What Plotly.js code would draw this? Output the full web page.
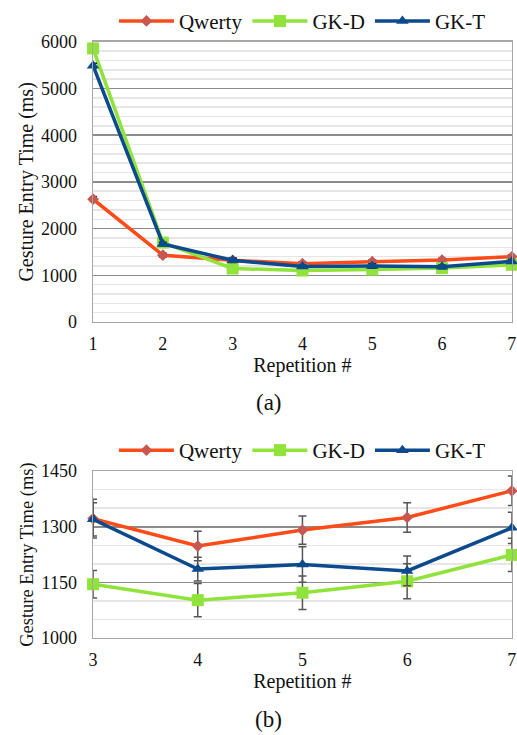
<!DOCTYPE html>
<html><head><meta charset="utf-8">
<script src="https://cdn.plot.ly/plotly-3.0.1.min.js"></script>
<style>body{margin:0;background:#fff}#c{width:517px;height:735px}</style>
</head><body><div id="c"></div>
<script>
const reps = [1, 2, 3, 4, 5, 6, 7];
const seriesNames = ['Qwerty', 'GK-D', 'GK-T'];
const qwerty = [2630, 1430, 1322, 1248, 1291, 1325, 1397];
const gkd = [5860, 1700, 1145, 1102, 1122, 1153, 1224];
const gkt = [5490, 1670, 1320, 1186, 1198, 1181, 1297];
const qwertyErr = [60, 40, 52, 40, 38, 40, 40];
const gkdErr = [40, 40, 37, 45, 45, 47, 45];
const gktErr = [50, 40, 45, 32, 48, 40, 42];
const bStart = 2;

const colors = {
  line: ['#ff4b17', '#8fe33b', '#0b4a8c'],
  marker: ['#c8574f', '#8fe33b', '#0b4a8c'],
  symbol: ['diamond', 'square', 'triangle-up'],
  size: [9, 12, 11]
};
const vals = [qwerty, gkd, gkt];
const errs = [qwertyErr, gkdErr, gktErr];

const traces = [];
for (let i = 0; i < 3; i++) {
  traces.push({
    x: reps, y: vals[i], name: seriesNames[i], type: 'scatter', mode: 'lines+markers',
    xaxis: 'x', yaxis: 'y', legend: 'legend', cliponaxis: false,
    line: {color: colors.line[i], width: 3.5},
    marker: {color: colors.marker[i], symbol: colors.symbol[i], size: colors.size[i]},
    error_y: {type: 'data', array: errs[i], visible: true, color: '#222', thickness: 1.5, width: 4}
  });
}
for (let i = 0; i < 3; i++) {
  traces.push({
    x: reps.slice(bStart), y: vals[i].slice(bStart), name: seriesNames[i], type: 'scatter', mode: 'lines+markers',
    xaxis: 'x2', yaxis: 'y2', legend: 'legend2', cliponaxis: false,
    line: {color: colors.line[i], width: 3.5},
    marker: {color: colors.marker[i], symbol: colors.symbol[i], size: colors.size[i]},
    error_y: {type: 'data', array: errs[i].slice(bStart), visible: true, color: '#555', thickness: 1.5, width: 4}
  });
}

const font = 'Liberation Serif';
const axisCommon = {
  showline: true, mirror: true, linecolor: '#a6a6a6', linewidth: 1.5,
  ticks: '', zeroline: false, tickfont: {family: font, size: 18, color: '#111'}
};

const layout = {
  width: 517, height: 735,
  margin: {l: 0, r: 0, t: 0, b: 0},
  paper_bgcolor: '#fff', plot_bgcolor: '#fff',
  font: {family: font, color: '#111'},
  xaxis: Object.assign({}, axisCommon, {
    domain: [0.18, 0.99], range: [1, 7], tickvals: reps, anchor: 'y', showgrid: false,
    ticklabelstandoff: 5,
    title: {text: 'Repetition #', font: {family: font, size: 20}, standoff: 1}
  }),
  yaxis: Object.assign({}, axisCommon, {
    domain: [0.562, 0.943], range: [0, 6000], dtick: 1000, anchor: 'x',
    showgrid: true, gridcolor: '#8c8c8c', gridwidth: 1.5,
    ticklabelstandoff: 11,
    minor: {dtick: 200, showgrid: true, gridcolor: '#e6e6e6', gridwidth: 1.5},
    title: {text: 'Gesture Entry Time (ms)', font: {family: font, size: 20}, standoff: 2}
  }),
  xaxis2: Object.assign({}, axisCommon, {
    domain: [0.18, 0.99], range: [3, 7], tickvals: reps.slice(bStart), anchor: 'y2', showgrid: false,
    ticklabelstandoff: 5,
    title: {text: 'Repetition #', font: {family: font, size: 20}, standoff: 1}
  }),
  yaxis2: Object.assign({}, axisCommon, {
    domain: [0.132, 0.359], range: [1000, 1450], tickvals: [1000, 1150, 1300, 1450], anchor: 'x2',
    showgrid: true, gridcolor: '#8c8c8c', gridwidth: 1.5,
    ticklabelstandoff: 11,
    minor: {dtick: 50, showgrid: true, gridcolor: '#e6e6e6', gridwidth: 1.5},
    title: {text: 'Gesture Entry Time (ms)', font: {family: font, size: 18.5}, standoff: 2}
  }),
  legend: {orientation: 'h', x: 0.585, xanchor: 'center', y: 0.999, yanchor: 'top',
    font: {family: font, size: 21}, itemwidth: 55, bgcolor: 'rgba(0,0,0,0)'},
  legend2: {orientation: 'h', x: 0.585, xanchor: 'center', y: 0.415, yanchor: 'top',
    font: {family: font, size: 21}, itemwidth: 55, bgcolor: 'rgba(0,0,0,0)'},
  annotations: [
    {text: '(a)', xref: 'paper', yref: 'paper', x: 0.52, y: 1 - 402/735, xanchor: 'center', yanchor: 'middle',
     showarrow: false, font: {family: font, size: 23}},
    {text: '(b)', xref: 'paper', yref: 'paper', x: 0.52, y: 1 - 719/735, xanchor: 'center', yanchor: 'middle',
     showarrow: false, font: {family: font, size: 23}}
  ],
  showlegend: true
};

Plotly.newPlot('c', traces, layout, {staticPlot: true});
</script></body></html>
